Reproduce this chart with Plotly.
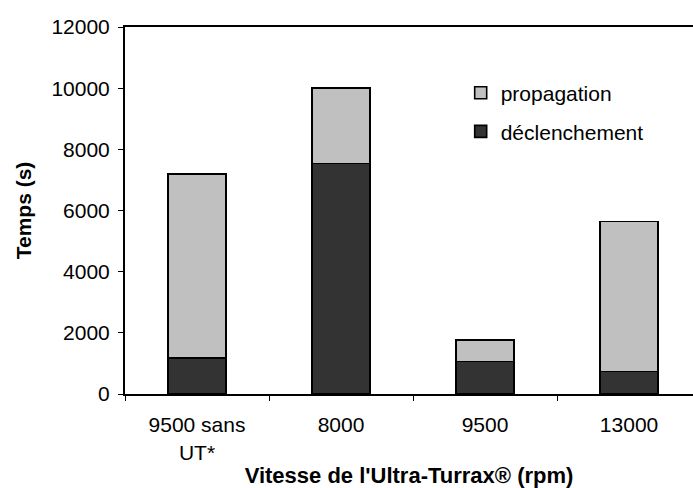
import plotly.graph_objects as go

# Stirring speed categories
categories = ["9500 sans<br>UT*", "8000", "9500", "13000"]

# Times in seconds
declenchement = [1180, 7540, 1060, 730]
propagation = [6020, 2460, 710, 4910]

FONT = "Liberation Sans, Arial, sans-serif"
bar_line = dict(color="black", width=1.6)

fig = go.Figure()
fig.add_trace(go.Bar(
    x=categories, y=declenchement, name="déclenchement",
    marker=dict(color="#333333", line=bar_line),
    width=0.4, legend="legend2",
))
fig.add_trace(go.Bar(
    x=categories, y=propagation, name="propagation",
    marker=dict(color="#C0C0C0", line=bar_line),
    width=0.4, legend="legend",
))

legend_style = dict(
    font=dict(family=FONT, size=21, color="black"),
    bgcolor="rgba(0,0,0,0)", xanchor="left", yanchor="middle",
)

fig.update_layout(
    width=693, height=488,
    margin=dict(l=125, r=0, t=27, b=94),
    barmode="stack",
    plot_bgcolor="white", paper_bgcolor="white",
    font=dict(family=FONT, size=21, color="black"),
    showlegend=True,
    legend=dict(x=0.591, y=0.820, **legend_style),
    legend2=dict(x=0.591, y=0.7147, **legend_style),
    xaxis=dict(
        type="category",
        range=[-0.5, 3.444],
        showline=True, linecolor="black", linewidth=2, mirror=True,
        ticks="outside", ticklen=5, tickwidth=1, tickcolor="black",
        tickson="boundaries",
        ticklabelstandoff=11,
        showgrid=False,
        tickfont=dict(family=FONT, size=21, color="black"),
        title=dict(text="<b>Vitesse de l'Ultra-Turrax® (rpm)</b>",
                   font=dict(family=FONT, size=22, color="black"),
                   standoff=7),
    ),
    yaxis=dict(
        range=[0, 12000], dtick=2000, tickformat="d",
        showline=True, linecolor="black", linewidth=2,
        ticks="outside", ticklen=5, tickwidth=1, tickcolor="black",
        ticklabelstandoff=4,
        showgrid=False, zeroline=False,
        tickfont=dict(family=FONT, size=21, color="black"),
        title=dict(text="<b>Temps (s)</b>",
                   font=dict(family=FONT, size=21, color="black"),
                   standoff=14),
    ),
)

fig.write_html("out.html")
